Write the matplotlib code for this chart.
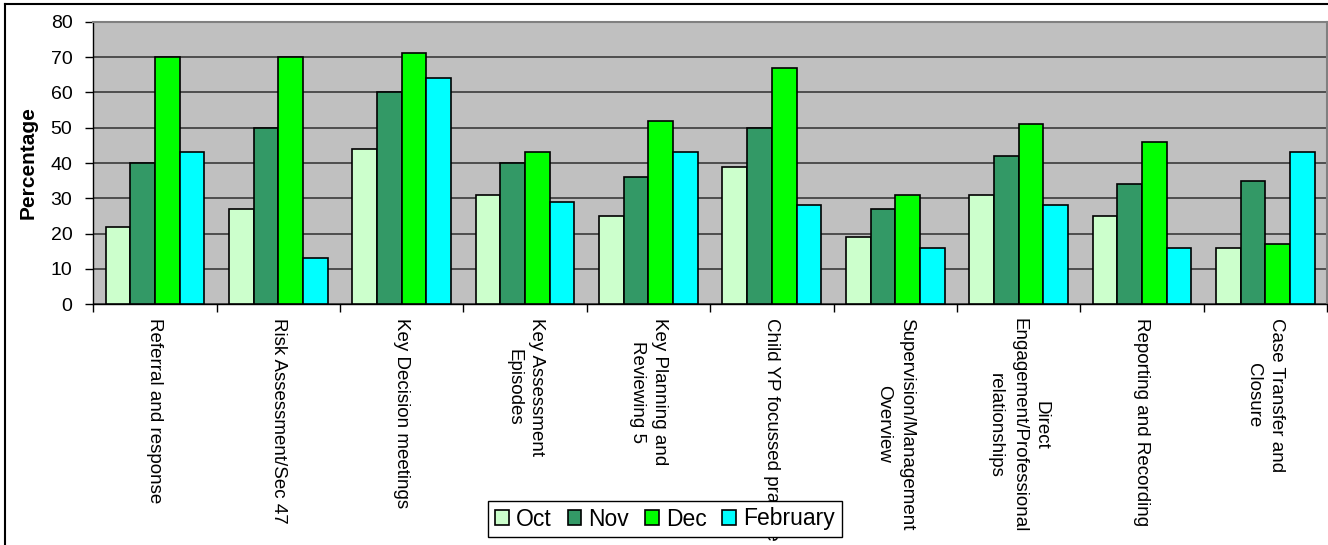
import matplotlib
matplotlib.use("Agg")
import matplotlib.pyplot as plt
from matplotlib.lines import Line2D
import numpy as np

plt.rcParams['font.family'] = ['Liberation Sans', 'DejaVu Sans']

categories = [
    "Referral and response",
    "Risk Assessment/Sec 47",
    "Key Decision meetings",
    "Key Assessment\nEpisodes",
    "Key Planning and\nReviewing 5",
    "Child YP focussed practice",
    "Supervision/Management\nOverview",
    "Direct\nEngagement/Professional\nrelationships",
    "Reporting and Recording",
    "Case Transfer and\nClosure",
]
months = ["Oct", "Nov", "Dec", "February"]
oct_vals = [22, 27, 44, 31, 25, 39, 19, 31, 25, 16]
nov_vals = [40, 50, 60, 40, 36, 50, 27, 42, 34, 35]
dec_vals = [70, 70, 71, 43, 52, 67, 31, 51, 46, 17]
feb_vals = [43, 13, 64, 29, 43, 28, 16, 28, 16, 43]
colours = ["#CCFFCC", "#339966", "#00FF00", "#00FFFF"]

fig = plt.figure(figsize=(13.28, 5.45), dpi=100)
ax = fig.add_axes([93.3 / 1328, 1 - 304.3 / 545, (1327 - 93.3) / 1328, (304.3 - 21.7) / 545])
ax.set_facecolor("#C0C0C0")

x = np.arange(len(categories))
width = 0.2
series = [oct_vals, nov_vals, dec_vals, feb_vals]
for i, (vals, name, col) in enumerate(zip(series, months, colours)):
    ax.bar(x + (i - 1.5) * width, vals, width, color=col, edgecolor="black",
           linewidth=1.2, label=name, zorder=3)

ax.set_xlim(-0.5, len(categories) - 0.5)
ax.set_ylim(0, 80)
ax.set_yticks(range(0, 81, 10))
ax.yaxis.grid(True, color="#3a3a3a", linewidth=1.2, zorder=1)
ax.set_axisbelow(True)

# group boundaries carry the tick marks, centres carry the labels
ax.set_xticks(np.arange(-0.5, len(categories), 1.0))
ax.set_xticklabels([])
ax.set_xticks(x, minor=True)
ax.set_xticklabels(categories, minor=True, rotation=-90, ha="center", va="top",
                   multialignment="center", fontsize=13.5)
for lbl in ax.get_xticklabels(minor=True):
    lbl.set_linespacing(1.45)
ax.tick_params(axis="x", which="major", length=6, width=1, color="black", direction="out")
ax.tick_params(axis="x", which="minor", length=0, pad=10)
ax.tick_params(axis="y", length=6, width=1, direction="out", labelsize=14, pad=9)

for side in ["left", "bottom"]:
    ax.spines[side].set_color("black")
    ax.spines[side].set_linewidth(1.0)
for side in ["top", "right"]:
    ax.spines[side].set_color("#808080")
    ax.spines[side].set_linewidth(1.5)

ax.set_ylabel("Percentage", fontsize=15, fontweight="bold")
ax.yaxis.set_label_coords(-0.045, 0.5)

leg = fig.legend(loc="center", bbox_to_anchor=(665 / 1328, 1 - 519 / 545), ncol=4,
                 fontsize=16.5, frameon=True, fancybox=False, framealpha=1,
                 edgecolor="black", handlelength=0.6, handleheight=0.6,
                 handletextpad=0.3, columnspacing=0.7, borderpad=0.3,
                 borderaxespad=0)
leg.get_frame().set_linewidth(1.0)

# outer chart border
fig.add_artist(Line2D([5 / 1328, 1.2], [1 - 3.5 / 545, 1 - 3.5 / 545],
                      transform=fig.transFigure, color="black", linewidth=1.5))
fig.add_artist(Line2D([5 / 1328, 5 / 1328], [1 - 3.5 / 545, -0.2],
                      transform=fig.transFigure, color="black", linewidth=1.5))

fig.savefig("out.png", dpi=100)
